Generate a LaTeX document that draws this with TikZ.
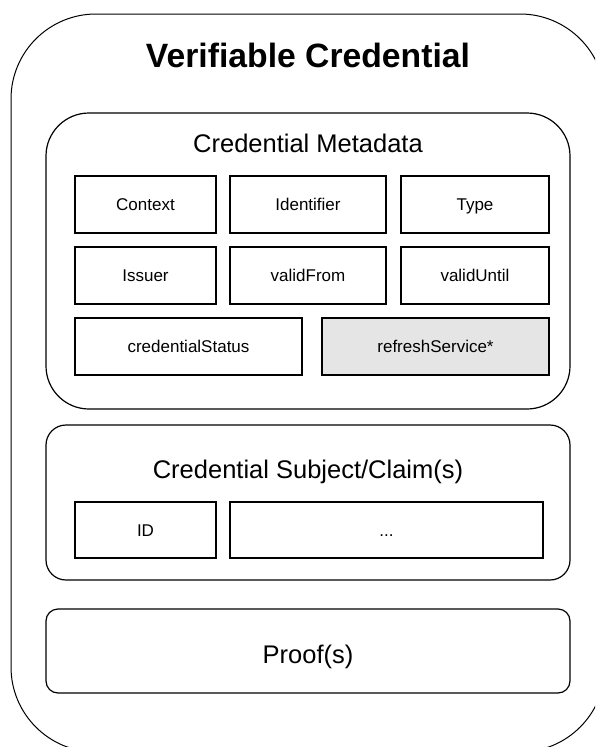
\documentclass[tikz,border=0pt]{standalone}
\usepackage{fontspec}
\setmainfont{Liberation Sans}
\begin{document}
\begin{tikzpicture}[x=1pt,y=-1pt,
  outerbox/.style={draw=black,line width=1pt,rounded corners=85pt},
  groupbox/.style={draw=black,line width=1.2pt},
  fieldbox/.style={draw=black,line width=1.2pt},
  titletext/.style={font=\bfseries\fontsize{33.7}{36}\selectfont,inner sep=0pt,text height=24.3pt,text depth=0pt},
  fieldtext/.style={font=\fontsize{17}{19}\selectfont,inner sep=0pt,text height=12.2pt,text depth=0pt},
  grouptext/.style={font=\fontsize{25.5}{28}\selectfont,inner sep=0pt,text height=18.4pt,text depth=0pt}]
  \useasboundingbox (0,0) rectangle (595,747);
  \clip (0,0) rectangle (595,747);
  \fill[white] (0,0) rectangle (595,747);

  % outer container
  \draw[outerbox] (11,14) rectangle (605,752);
  \node[titletext] (title) at (308,55) {Verifiable Credential};

  % credential metadata group
  \draw[groupbox,rounded corners=43pt] (46,113) rectangle (570,409);
  \node[grouptext] (meta) at (308,143) {Credential Metadata};

  \draw[fieldbox] (75,176) rectangle (216,233);
  \node[fieldtext] (ctx) at (145.5,204.5) {Context};
  \draw[fieldbox] (230,176) rectangle (386,233);
  \node[fieldtext] (idf) at (308,204.5) {Identifier};
  \draw[fieldbox] (401,176) rectangle (549,233);
  \node[fieldtext] (typ) at (475,204.5) {Type};

  \draw[fieldbox] (75,247) rectangle (216,304);
  \node[fieldtext] (iss) at (145.5,275.5) {Issuer};
  \draw[fieldbox] (230,247) rectangle (386,304);
  \node[fieldtext] (vfrom) at (308,275.5) {validFrom};
  \draw[fieldbox] (401,247) rectangle (549,304);
  \node[fieldtext] (vuntil) at (475,275.5) {validUntil};

  \draw[fieldbox] (75,318) rectangle (302,375);
  \node[fieldtext] (status) at (188.5,346.5) {credentialStatus};
  \draw[fieldbox,fill=black!10] (322,318) rectangle (549,375);
  \node[fieldtext] (refresh) at (435.5,346.5) {refreshService*};

  % credential subject group
  \draw[groupbox,rounded corners=20pt] (46,425) rectangle (570,580);
  \node[grouptext] (subj) at (308,469) {Credential Subject/Claim(s)};
  \draw[fieldbox] (75,502) rectangle (216,558);
  \node[fieldtext] (sid) at (145.5,530) {ID};
  \draw[fieldbox] (230,502) rectangle (543,558);
  \node[fieldtext] (more) at (386.5,530) {...};

  % proof group
  \draw[groupbox,rounded corners=12pt] (46,609) rectangle (570,693);
  \node[grouptext] (proof) at (308,654) {Proof(s)};
\end{tikzpicture}
\end{document}
